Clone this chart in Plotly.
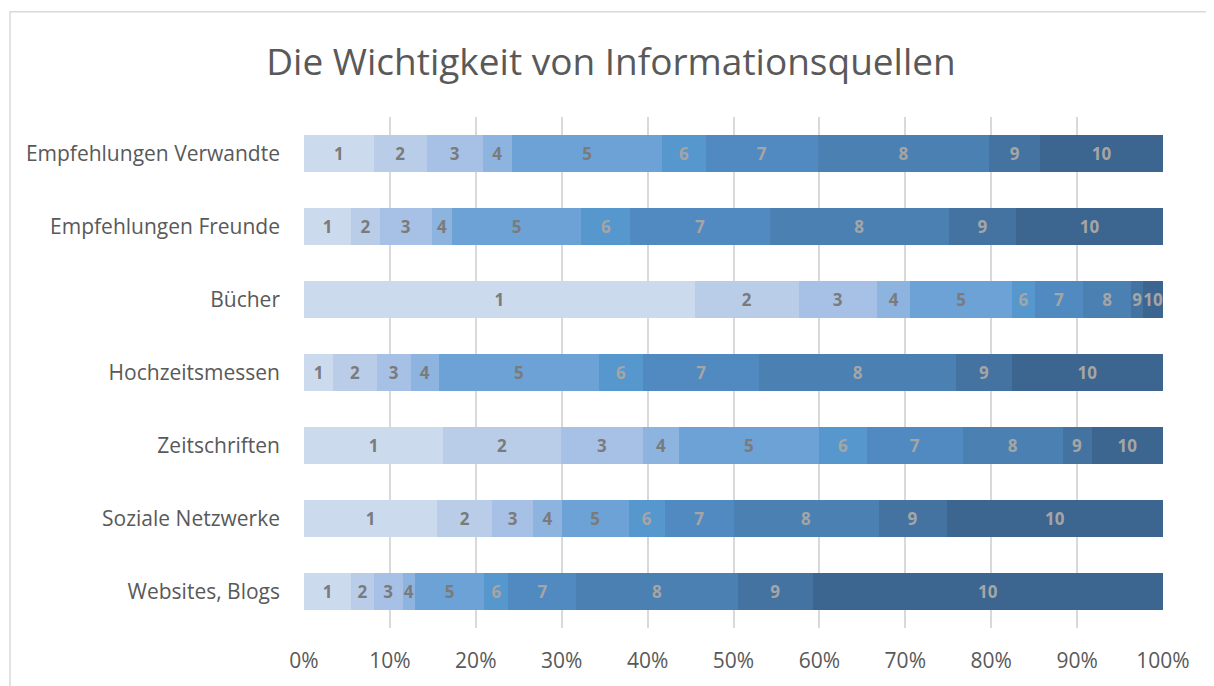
import plotly.graph_objects as go

categories = ["Empfehlungen Verwandte", "Empfehlungen Freunde", "Bücher", "Hochzeitsmessen",
              "Zeitschriften", "Soziale Netzwerke", "Websites, Blogs"]
series_names = ["1", "2", "3", "4", "5", "6", "7", "8", "9", "10"]
s1 = [8.1, 5.5, 45.5, 3.4, 16.2, 15.5, 5.5]
s2 = [6.2, 3.3, 12.1, 5.1, 13.7, 6.4, 2.6]
s3 = [6.5, 6.1, 9.1, 3.9, 9.6, 4.8, 3.4]
s4 = [3.4, 2.3, 3.9, 3.3, 4.1, 3.3, 1.4]
s5 = [17.5, 15.1, 11.8, 18.6, 16.4, 7.8, 8.1]
s6 = [5.1, 5.7, 2.7, 5.2, 5.5, 4.2, 2.8]
s7 = [13.0, 16.2, 5.6, 13.5, 11.2, 8.0, 7.9]
s8 = [20.0, 20.9, 5.6, 22.9, 11.6, 16.9, 18.8]
s9 = [5.9, 7.8, 1.4, 6.5, 3.4, 7.9, 8.7]
s10 = [14.3, 17.1, 2.3, 17.6, 8.3, 25.2, 40.8]
series_values = [s1, s2, s3, s4, s5, s6, s7, s8, s9, s10]
tick_vals = [0, 10, 20, 30, 40, 50, 60, 70, 80, 90, 100]
tick_text = ["0%", "10%", "20%", "30%", "40%", "50%", "60%", "70%", "80%", "90%", "100%"]

colors = ["#CCDAEE", "#BACDE8", "#A7C0E5", "#8DB3DF", "#6DA2D6",
          "#5698CD", "#508AC0", "#4A80B2", "#4473A1", "#3C668F"]
label_colors = ["#7B7B7B"] * 5 + ["#A5A5A5"] * 5

fig = go.Figure()
for name, vals, col, lcol in zip(series_names, series_values, colors, label_colors):
    fig.add_trace(go.Bar(
        y=categories, x=vals, name=name, orientation="h",
        marker=dict(color=col, line=dict(width=0)),
        text=[name] * len(vals), texttemplate="%{text}",
        textposition="inside", insidetextanchor="middle", textangle=0,
        textfont=dict(color=lcol, size=17, family="Open Sans", weight="bold"),
        constraintext="none",
    ))

fig.update_layout(
    barmode="stack", barnorm="percent", bargap=0.5,
    width=1206, height=678,
    margin=dict(l=296, r=51, t=109, b=54),
    paper_bgcolor="white", plot_bgcolor="white",
    showlegend=False,
    uniformtext=dict(minsize=17, mode="show"),
    title=dict(text="Die Wichtigkeit von Informationsquellen", x=0.5, xanchor="center",
               y=1 - 54 / 678, yref="container", yanchor="middle",
               font=dict(family="Open Sans", size=37, color="#595959")),
    font=dict(family="Open Sans", color="#595959"),
    xaxis=dict(range=[0, 100], tickvals=tick_vals, ticktext=tick_text,
               showgrid=True, gridcolor="#D9D9D9", gridwidth=1.5,
               zeroline=False, showline=False, ticks="",
               tickfont=dict(size=21, color="#595959"), ticklabelstandoff=18),
    yaxis=dict(autorange="reversed", showgrid=False, ticks="", showline=False,
               tickfont=dict(size=21, color="#595959"), ticklabelstandoff=23),
    shapes=[dict(type="rect", xref="paper", yref="paper",
                 x0=-294 / 859, x1=1300 / 859, y0=-200 / 515, y1=(117 - 11) / 515 + 1,
                 line=dict(color="#D9D9D9", width=1.5), fillcolor="rgba(0,0,0,0)", layer="below")],
)
fig.write_html("out.html")
